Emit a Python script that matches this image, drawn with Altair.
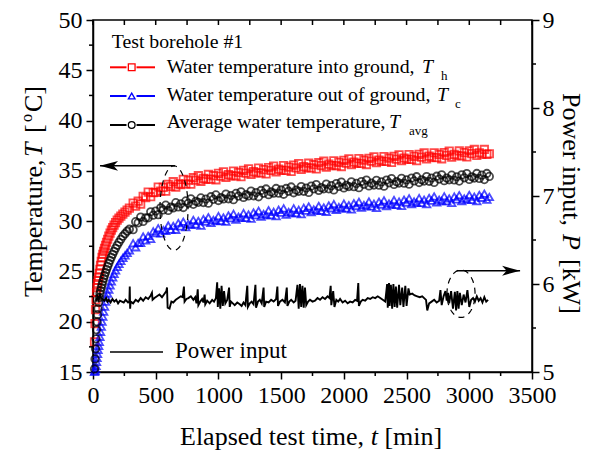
import altair as alt
import pandas as pd
import numpy as np

FONT = "Liberation Serif"
W, H = 439, 352

# ---------------- data ----------------
TIME_MIN = [12, 16, 20, 24, 28, 32, 36, 40, 45, 50, 55, 60, 66, 72, 78, 85, 92, 100, 108, 117,
            126, 136, 146, 157, 168, 180, 193, 207, 222, 238, 255, 272, 290,
            320, 340, 360, 380, 400, 420, 440, 460, 480, 500,
            520, 540, 560, 580, 600, 620, 640, 660, 680, 700,
            720, 740, 760, 780, 800, 820, 840, 860, 880, 900,
            920, 940, 960, 980, 1000, 1020, 1040, 1060, 1080, 1100,
            1120, 1140, 1160, 1180, 1200, 1220, 1240, 1260, 1280, 1300,
            1320, 1340, 1360, 1380, 1400, 1420, 1440, 1460, 1480, 1500,
            1520, 1540, 1560, 1580, 1600, 1620, 1640, 1660, 1680, 1700,
            1720, 1740, 1760, 1780, 1800, 1820, 1840, 1860, 1880, 1900,
            1920, 1940, 1960, 1980, 2000, 2020, 2040, 2060, 2080, 2100,
            2120, 2140, 2160, 2180, 2200, 2220, 2240, 2260, 2280, 2300,
            2320, 2340, 2360, 2380, 2400, 2420, 2440, 2460, 2480, 2500,
            2520, 2540, 2560, 2580, 2600, 2620, 2640, 2660, 2680, 2700,
            2720, 2740, 2760, 2780, 2800, 2820, 2840, 2860, 2880, 2900,
            2920, 2940, 2960, 2980, 3000, 3020, 3040, 3060, 3080, 3100,
            3120, 3140, 3160]

T_H = [18.0, 19.8, 21.2, 22.2, 22.9, 23.4, 23.8, 24.1, 24.4, 24.8, 25.2, 25.6, 26.0, 26.4, 26.7,
       27.0, 27.3, 27.6, 27.9, 28.2, 28.5, 28.8, 29.1, 29.35, 29.6, 29.85, 30.1, 30.3, 30.5, 30.7,
       30.9, 31.1, 31.3,
       31.8, 31.5, 31.98, 31.7, 32.47, 32.33, 32.88, 32.43, 32.84, 32.85,
       33.39, 32.98, 33.36, 32.99, 33.67, 33.45, 33.92, 33.39, 33.71, 33.63,
       34.15, 33.71, 34.07, 33.67, 34.32, 34.07, 34.52, 33.96, 34.25, 34.15,
       34.64, 34.18, 34.52, 34.11, 34.75, 34.48, 34.91, 34.34, 34.62, 34.5,
       34.98, 34.51, 34.84, 34.42, 35.05, 34.78, 35.21, 34.64, 34.92, 34.79,
       35.27, 34.8, 35.12, 34.7, 35.33, 35.05, 35.48, 34.9, 35.18, 35.05,
       35.52, 35.05, 35.37, 34.95, 35.57, 35.29, 35.72, 35.14, 35.42, 35.29,
       35.76, 35.29, 35.61, 35.19, 35.81, 35.53, 35.96, 35.38, 35.66, 35.53,
       36.0, 35.53, 35.85, 35.43, 36.05, 35.77, 36.19, 35.61, 35.88, 35.75,
       36.22, 35.74, 36.06, 35.63, 36.25, 35.97, 36.39, 35.81, 36.08, 35.95,
       36.42, 35.94, 36.26, 35.83, 36.45, 36.17, 36.59, 36.01, 36.28, 36.15,
       36.62, 36.14, 36.45, 36.02, 36.64, 36.36, 36.78, 36.19, 36.46, 36.33,
       36.8, 36.32, 36.63, 36.2, 36.82, 36.54, 36.96, 36.37, 36.64, 36.51,
       36.98, 36.5, 36.81, 36.38, 37.0, 36.71, 37.13, 36.54, 36.8, 36.67,
       37.13, 36.64, 36.7]

T_C = [15.0, 15.1, 15.3, 15.6, 16.0, 16.4, 16.8, 17.2, 17.6, 18.0, 18.5, 19.0, 19.5, 20.0, 20.5,
       21.0, 21.5, 22.0, 22.4, 22.8, 23.2, 23.6, 24.0, 24.4, 24.75, 25.1, 25.45, 25.75, 26.05, 26.35,
       26.6, 26.85, 27.1,
       27.8, 27.4, 27.83, 27.85, 28.47, 28.08, 28.53, 28.23, 28.99, 28.8,
       29.29, 28.78, 29.11, 29.04, 29.57, 29.15, 29.52, 29.14, 29.81, 29.48,
       29.95, 29.41, 29.72, 29.62, 30.12, 29.67, 30.02, 29.56, 30.2, 29.95,
       30.39, 29.83, 30.12, 30.01, 30.5, 30.03, 30.36, 29.94, 30.57, 30.3,
       30.73, 30.16, 30.44, 30.32, 30.8, 30.33, 30.66, 30.24, 30.87, 30.59,
       31.02, 30.45, 30.72, 30.6, 31.08, 30.6, 30.93, 30.5, 31.13, 30.85,
       31.27, 30.65, 30.92, 30.8, 31.27, 30.79, 31.12, 30.69, 31.32, 31.04,
       31.46, 30.89, 31.16, 31.04, 31.51, 31.03, 31.36, 30.93, 31.56, 31.28,
       31.7, 31.13, 31.4, 31.28, 31.75, 31.27, 31.59, 31.16, 31.78, 31.5,
       31.92, 31.34, 31.61, 31.48, 31.95, 31.47, 31.74, 31.31, 31.93, 31.65,
       32.07, 31.49, 31.76, 31.63, 32.1, 31.62, 31.94, 31.51, 32.13, 31.85,
       32.27, 31.69, 31.95, 31.82, 32.29, 31.81, 32.13, 31.69, 32.31, 32.03,
       32.45, 31.87, 32.13, 32.0, 32.47, 31.99, 32.26, 31.82, 32.44, 32.16,
       32.58, 32.0, 32.26, 32.13, 32.6, 32.11, 32.43, 31.99, 32.6, 32.32,
       32.73, 32.14, 32.4]

T_AVG = [15.3, 16.3, 17.3, 18.3, 19.2, 20.0, 20.7, 21.3, 21.9, 22.4, 22.8, 23.1, 23.4, 23.7, 24.0,
         24.3, 24.6, 24.9, 25.2, 25.5, 25.8, 26.1, 26.4, 26.7, 27.0, 27.3, 27.6, 27.9, 28.2, 28.5,
         28.75, 29.0, 29.2,
         29.15, 29.95, 29.83, 30.4, 29.97, 30.33, 30.33, 30.93, 30.59, 31.0,
         30.64, 31.33, 31.11, 31.59, 31.07, 31.4, 31.32, 31.84, 31.41, 31.73,
         31.35, 32.01, 31.77, 32.22, 31.67, 31.97, 31.87, 32.31, 31.85, 32.2,
         31.79, 32.43, 32.17, 32.61, 32.05, 32.33, 32.21, 32.69, 32.22, 32.55,
         32.13, 32.76, 32.49, 32.92, 32.35, 32.63, 32.51, 32.99, 32.52, 32.84,
         32.42, 33.05, 32.77, 33.2, 32.63, 32.9, 32.78, 33.25, 32.78, 33.1,
         32.67, 33.25, 32.97, 33.4, 32.82, 33.09, 32.97, 33.44, 32.97, 33.29,
         32.86, 33.49, 33.21, 33.64, 33.06, 33.33, 33.21, 33.68, 33.21, 33.53,
         33.1, 33.73, 33.45, 33.88, 33.3, 33.57, 33.44, 33.91, 33.43, 33.75,
         33.32, 33.94, 33.66, 34.08, 33.5, 33.77, 33.59, 34.06, 33.58, 33.9,
         33.47, 34.09, 33.81, 34.23, 33.65, 33.92, 33.79, 34.26, 33.78, 34.1,
         33.67, 34.29, 34.0, 34.42, 33.84, 34.11, 33.98, 34.44, 33.96, 34.28,
         33.85, 34.47, 34.18, 34.6, 34.02, 34.29, 34.11, 34.57, 34.09, 34.41,
         33.98, 34.6, 34.31, 34.73, 34.15, 34.41, 34.28, 34.74, 34.25, 34.57,
         34.13, 34.74, 34.45]

POWER_T = [25, 35, 45, 55, 65, 75, 90, 105, 115, 125, 140, 155, 170, 185, 200, 215, 230, 245, 260, 280,
           290, 293, 296, 300, 320, 340, 360, 380, 400, 420, 440, 460, 470, 475, 490, 510, 530, 550, 570, 585,
           590, 595, 610, 625, 640, 660, 680, 700, 715, 725, 730, 745, 760, 780, 800, 815, 825, 835, 840, 855,
           870, 880, 890, 895, 910, 930, 950, 965, 980, 990, 995, 1005, 1015, 1025, 1035, 1045, 1055, 1070, 1085, 1090,
           1100, 1115, 1130, 1150, 1170, 1185, 1200, 1215, 1230, 1235, 1250, 1265, 1280, 1295, 1300, 1315, 1330, 1345, 1360, 1365,
           1380, 1400, 1420, 1440, 1460, 1470, 1475, 1490, 1510, 1530, 1545, 1550, 1565, 1580, 1600, 1615, 1630, 1640, 1650, 1660,
           1670, 1680, 1690, 1700, 1715, 1730, 1750, 1770, 1790, 1810, 1830, 1850, 1870, 1885, 1895, 1900, 1915, 1925, 1940, 1955,
           1970, 1990, 2010, 2030, 2050, 2070, 2090, 2105, 2115, 2120, 2135, 2150, 2170, 2190, 2210, 2230, 2250, 2270, 2290, 2310,
           2330, 2345, 2350, 2360, 2365, 2375, 2385, 2395, 2405, 2415, 2425, 2440, 2450, 2465, 2475, 2490, 2500, 2515, 2525, 2545,
           2565, 2585, 2605, 2625, 2640, 2655, 2665, 2680, 2700, 2720, 2740, 2760, 2770, 2780, 2795, 2810, 2820, 2830, 2840, 2855,
           2870, 2885, 2895, 2905, 2915, 2925, 2940, 2955, 2970, 2985, 3000, 3015, 3030, 3045, 3060, 3075, 3090, 3105, 3120, 3135,
           3150]
POWER_KW = [5.80, 5.86, 5.82, 5.88, 5.84, 5.83, 5.81, 5.84, 5.80, 5.82, 5.79, 5.83, 5.80, 5.82, 5.78, 5.81, 5.80, 5.79, 5.82, 5.79,
            5.80, 5.97, 5.72, 5.80, 5.78, 5.82, 5.80, 5.84, 5.81, 5.85, 5.83, 5.87, 5.90, 5.82, 5.84, 5.86, 5.88, 5.85, 5.89, 5.92,
            5.96, 5.73, 5.72, 5.80, 5.79, 5.82, 5.84, 5.86, 5.85, 5.97, 5.80, 5.83, 5.84, 5.86, 5.82, 5.85, 5.78, 5.94, 5.76, 5.80,
            5.83, 5.79, 5.88, 5.77, 5.81, 5.78, 5.82, 5.80, 5.84, 6.02, 5.74, 5.95, 5.72, 5.98, 5.75, 5.92, 5.78, 5.82, 5.96, 5.74,
            5.80, 5.78, 5.76, 5.79, 5.77, 5.75, 5.79, 5.76, 5.98, 5.74, 5.78, 5.80, 5.77, 5.99, 5.73, 5.80, 5.82, 5.78, 5.96, 5.74,
            5.80, 5.79, 5.82, 5.80, 5.83, 5.97, 5.75, 5.80, 5.82, 5.79, 5.96, 5.75, 5.80, 5.82, 5.79, 5.81, 5.99, 5.72, 6.00, 5.74,
            5.98, 5.73, 5.96, 5.76, 5.80, 5.82, 5.80, 5.81, 5.84, 5.82, 5.85, 5.83, 5.86, 5.84, 5.98, 5.76, 5.92, 5.74, 5.82, 5.80,
            5.83, 5.79, 5.81, 5.78, 5.80, 5.79, 5.82, 5.81, 6.01, 5.75, 5.80, 5.82, 5.81, 5.84, 5.83, 5.85, 5.84, 5.86, 5.84, 5.82,
            5.80, 6.00, 5.73, 6.01, 5.75, 5.99, 5.72, 6.00, 5.74, 5.97, 5.73, 5.99, 5.76, 5.96, 5.74, 5.98, 5.75, 5.95, 5.88, 5.89,
            5.87, 5.86, 5.85, 5.86, 5.84, 5.82, 5.70, 5.78, 5.80, 5.82, 5.79, 5.81, 5.93, 5.76, 5.86, 5.92, 5.81, 5.90, 5.78, 5.92,
            5.72, 5.91, 5.70, 5.92, 5.72, 5.90, 5.76, 5.88, 5.79, 5.93, 5.74, 5.82, 5.84, 5.80, 5.86, 5.81, 5.84, 5.79, 5.85, 5.80,
            5.82]

SERIES = ["Th", "Tc", "Tavg"]
COLORS = ["#ff0000", "#0000ff", "#000000"]
SHAPES = ["square", "triangle-up", "circle"]

X_TICKS = [0, 500, 1000, 1500, 2000, 2500, 3000, 3500]
X_MINOR = [250, 750, 1250, 1750, 2250, 2750, 3250]
X_TOP = [0, 250, 500, 750, 1000, 1250, 1500, 1750, 2000, 2250, 2500, 2750, 3000, 3250, 3500]
Y_TICKS = [15, 20, 25, 30, 35, 40, 45, 50]
Y_MINOR = [17.5, 22.5, 27.5, 32.5, 37.5, 42.5, 47.5]
P_TICKS = [5, 6, 7, 8, 9]
P_MINOR = [5.5, 6.5, 7.5, 8.5]

# annotation anchors (data units)
ARROW_L = {"t_from": 654, "t_tip": 56, "T": 35.5}
ARROW_R = {"t_from": 2900, "t_tip": 3405, "P": 6.15}
ELL_L = {"t": 646, "T": 31.3, "rt": 112, "rT": 4.2}
ELL_R = {"t": 2934, "P": 5.89, "rt": 112, "rP": 0.27}

# ---------------- frames ----------------
n = len(TIME_MIN)
assert len(T_H) == n and len(T_C) == n and len(T_AVG) == n, (n, len(T_H), len(T_C), len(T_AVG))
assert len(POWER_T) == len(POWER_KW)
temp_df = pd.DataFrame({
    "t": TIME_MIN * 3,
    "T": T_H + T_C + T_AVG,
    "s": ["Th"] * n + ["Tc"] * n + ["Tavg"] * n,
})
power_df = pd.DataFrame({"t": POWER_T, "P": POWER_KW})

x_scale = alt.Scale(domain=[0, 3500], nice=False, zero=False)
x_axis = alt.Axis(values=X_TICKS, title=None, format="d", tickSize=7, labelPadding=4,
                  labelFlush=False, labelOverlap=False, orient="bottom")
y_scale = alt.Scale(domain=[15, 50], nice=False, zero=False)
y_axis = alt.Axis(values=Y_TICKS, title=None, orient="left", tickSize=7, labelPadding=4,
                  labelFlush=False, labelOverlap=False)
p_scale = alt.Scale(domain=[5, 9], nice=False, zero=False)
p_axis = alt.Axis(values=P_TICKS, title=None, orient="right", tickSize=7, labelPadding=3,
                  labelFlush=False, labelOverlap=False)

X = alt.X("t:Q", scale=x_scale, axis=x_axis)
Y = alt.Y("T:Q", scale=y_scale, axis=y_axis)
YP = alt.Y("P:Q", scale=p_scale, axis=p_axis)

points = alt.Chart(temp_df).mark_point(filled=False, strokeWidth=1.8, size=55).encode(
    x=X, y=Y,
    color=alt.Color("s:N", scale=alt.Scale(domain=SERIES, range=COLORS), legend=None),
    shape=alt.Shape("s:N", scale=alt.Scale(domain=SERIES, range=SHAPES), legend=None),
)

left_minor = alt.Chart(pd.DataFrame({"T": Y_MINOR})).mark_rule(color="black", strokeWidth=1.5).encode(
    y=Y, x=alt.value(-4), x2=alt.value(0))
bottom_minor = alt.Chart(pd.DataFrame({"t": X_MINOR})).mark_rule(color="black", strokeWidth=1.5).encode(
    x=X, y=alt.value(H), y2=alt.value(H + 4))
top_ticks = alt.Chart(pd.DataFrame({"t": X_TOP})).mark_rule(color="black", strokeWidth=1.5).encode(
    x=X, y=alt.value(0), y2=alt.value(5))

# left arrow
arrow_l_df = pd.DataFrame({"t": [ARROW_L["t_from"], ARROW_L["t_tip"]], "T": [ARROW_L["T"]] * 2})
arrow_l_line = alt.Chart(arrow_l_df).mark_line(color="black", strokeWidth=1.5).encode(x=X, y=Y)
arrow_l_head = alt.Chart(pd.DataFrame({"t": [ARROW_L["t_tip"]], "T": [ARROW_L["T"]]})).mark_point(
    shape="M0,0 L2,-0.55 L1.5,0 L2,0.55 Z", filled=True, color="black", size=324, opacity=1).encode(x=X, y=Y)

# left ellipse (dashed)
th = np.linspace(0, 2 * np.pi, 73)
ell_l_df = pd.DataFrame({"t": ELL_L["t"] + ELL_L["rt"] * np.cos(th),
                         "T": ELL_L["T"] + ELL_L["rT"] * np.sin(th),
                         "i": np.arange(len(th))})
ell_l = alt.Chart(ell_l_df).mark_line(color="black", strokeWidth=1.2, strokeDash=[6, 5]).encode(
    x=X, y=Y, order="i:Q")

DUMMY = pd.DataFrame({"d": [0]})


def txt(s, x, y, size=19.8, style="normal", angle=0):
    return alt.Chart(DUMMY).mark_text(text=s, font=FONT, fontSize=size, fontStyle=style, angle=angle,
                                      align="left", baseline="alphabetic", color="black").encode(
        x=alt.value(x), y=alt.value(y))


def seg(x1, x2, y, color, width=2):
    return alt.Chart(DUMMY).mark_rule(color=color, strokeWidth=width).encode(
        x=alt.value(x1), x2=alt.value(x2), y=alt.value(y))


def sym(x, y, shape, color, size=45):
    return alt.Chart(DUMMY).mark_point(shape=shape, color=color, filled=False, size=size,
                                       strokeWidth=1.3, opacity=1).encode(x=alt.value(x), y=alt.value(y))


legend = [txt("Test borehole #1", 18.7, 28.3)]
rows = [
    (47.3, 52.7, "Water temperature into ground,", 329, "h", 348, COLORS[0], SHAPES[0]),
    (76.0, 81.0, "Water temperature out of ground,", 344, "c", 362, COLORS[1], SHAPES[1]),
    (105.0, 108.3, "Average water temperature,", 296, "avg", 316, COLORS[2], SHAPES[2]),
]
for ys, yb, label, xT, sub, xs, col, shp in rows:
    legend += [seg(17, 33.5, ys, col), seg(43.5, 62, ys, col), sym(38.7, ys, shp, col),
               txt(label, 73.7, yb), txt("T", xT, yb, style="italic"), txt(sub, xs, yb + 7, size=13)]
legend += [seg(17, 70, 332, "black", 1.5), txt("Power input", 82, 338, size=23)]

titles = [
    txt("Elapsed test time,", 87, 425, size=26),
    txt("t", 277.7, 425, size=26, style="italic"),
    txt("[min]", 291.4, 425, size=26),
    txt("Temperature,", -51.3, 277, size=26, angle=270),
    txt("T", -51.3, 137, size=26, style="italic", angle=270),
    txt("[", -51.3, 113, size=26, angle=270),
    txt("o", -61, 102, size=16, angle=270),
    txt("C]", -51.3, 92, size=26, angle=270),
    txt("Power input,", 470, 73, size=26, angle=90),
    txt("P", 470, 214, size=26, style="italic", angle=90),
    txt("[kW]", 470, 239, size=26, angle=90),
]

temp_layer = alt.layer(points, left_minor, bottom_minor, top_ticks, ell_l, arrow_l_line, arrow_l_head,
                       *legend, *titles)

# power layer
power_line = alt.Chart(power_df).mark_line(color="black", strokeWidth=1.9).encode(x=X, y=YP)
right_minor = alt.Chart(pd.DataFrame({"P": P_MINOR})).mark_rule(color="black", strokeWidth=1.5).encode(
    y=YP, x=alt.value(W), x2=alt.value(W + 4))
arrow_r_df = pd.DataFrame({"t": [ARROW_R["t_from"], ARROW_R["t_tip"]], "P": [ARROW_R["P"]] * 2})
arrow_r_line = alt.Chart(arrow_r_df).mark_line(color="black", strokeWidth=1.5).encode(x=X, y=YP)
arrow_r_head = alt.Chart(pd.DataFrame({"t": [ARROW_R["t_tip"]], "P": [ARROW_R["P"]]})).mark_point(
    shape="M0,0 L-2,-0.55 L-1.5,0 L-2,0.55 Z", filled=True, color="black", size=324, opacity=1).encode(x=X, y=YP)
ell_r_df = pd.DataFrame({"t": ELL_R["t"] + ELL_R["rt"] * np.cos(th),
                         "P": ELL_R["P"] + ELL_R["rP"] * np.sin(th),
                         "i": np.arange(len(th))})
ell_r = alt.Chart(ell_r_df).mark_line(color="black", strokeWidth=1.2, strokeDash=[6, 5]).encode(
    x=X, y=YP, order="i:Q")

power_layer = alt.layer(power_line, right_minor, ell_r, arrow_r_line, arrow_r_head)

chart = alt.layer(temp_layer, power_layer).resolve_scale(y="independent").properties(
    width=W, height=H,
    padding={"left": 85, "top": 12, "right": 60, "bottom": 78},
    autosize=alt.AutoSizeParams(type="none"),
).configure_axis(
    labelFont=FONT, labelFontSize=24, labelColor="black",
    domainColor="black", domainWidth=1.5, tickColor="black", tickWidth=1.5, grid=False,
).configure_view(stroke="black", strokeWidth=1.5)

chart.save("out.html", embed_options={"renderer": "svg", "actions": False})
